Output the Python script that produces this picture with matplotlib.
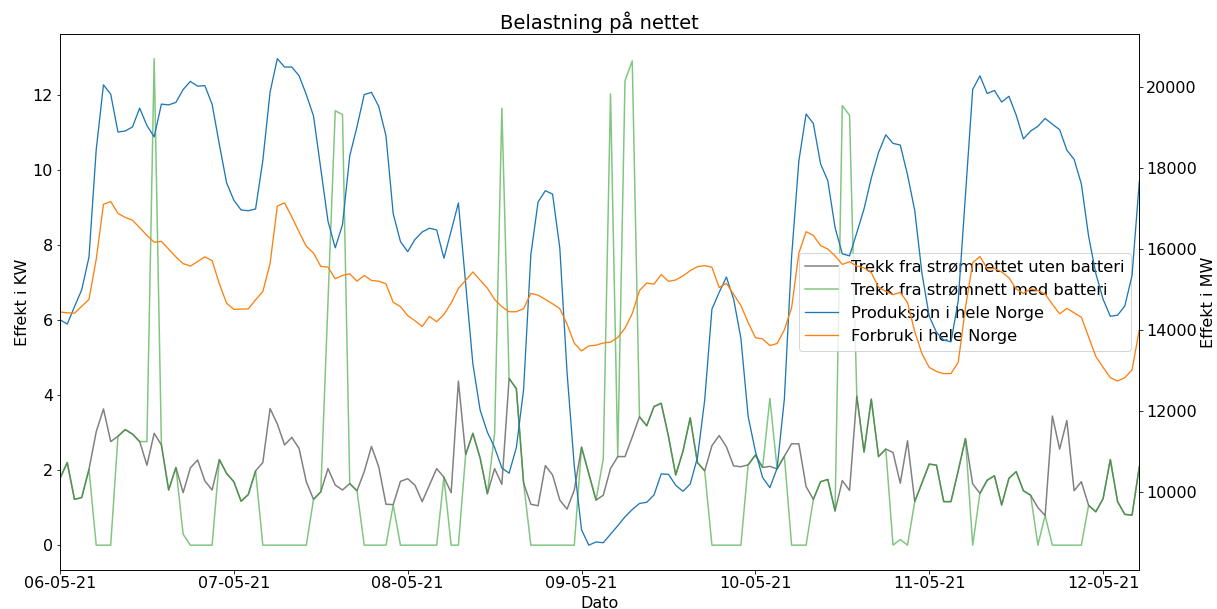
import numpy as np
import pandas as pd
import matplotlib
matplotlib.use("Agg")
import matplotlib.pyplot as plt
import matplotlib.dates as mdates

# ---- data (hourly, 06-05-2021 00:00 -> 12-05-2021 05:00) ----
start = "2021-05-06 00:00"
n_hours = 150

uten_batteri = [
    1.78, 2.2, 1.22, 1.27, 2.02, 3.02, 3.63, 2.76, 2.9, 3.08, 2.96, 2.76, 2.13, 2.98, 2.67, 1.47, 2.07, 1.4, 2.06, 2.27,
    1.71, 1.47, 2.28, 1.91, 1.69, 1.17, 1.35, 1.98, 2.2, 3.64, 3.23, 2.67, 2.87, 2.58, 1.69, 1.22, 1.42, 2.04, 1.6, 1.47,
    1.64, 1.45, 1.96, 2.63, 2.09, 1.09, 1.08, 1.7, 1.77, 1.6, 1.16, 1.6, 2.04, 1.81, 1.4, 4.37, 2.41, 2.98, 2.32, 1.37,
    2.04, 1.62, 4.44, 4.17, 1.66, 1.09, 1.05, 2.12, 1.87, 1.2, 0.96, 1.47, 2.61, 1.9, 1.2, 1.33, 2.04, 2.36, 2.36, 2.88,
    3.42, 3.18, 3.69, 3.78, 2.9, 1.87, 2.5, 3.39, 2.2, 1.98, 2.65, 2.92, 2.62, 2.11, 2.09, 2.14, 2.4, 2.07, 2.1, 2.03,
    2.37, 2.7, 2.7, 1.56, 1.22, 1.69, 1.75, 0.91, 1.72, 1.46, 3.97, 2.48, 3.89, 2.36, 2.56, 2.47, 1.65, 2.78, 1.16, 1.66,
    2.16, 2.13, 1.16, 1.16, 1.98, 2.84, 1.63, 1.38, 1.73, 1.85, 1.07, 1.78, 1.96, 1.45, 1.33, 1.0, 0.79, 3.44, 2.56, 3.32,
    1.45, 1.69, 1.06, 0.89, 1.24, 2.28, 1.16, 0.82, 0.8, 2.09,
]

med_batteri = [
    1.78, 2.2, 1.22, 1.27, 2.02, 0.0, 0.0, 0.0, 2.9, 3.08, 2.96, 2.76, 2.76, 12.96, 2.67, 1.47, 2.07, 0.29, 0.0, 0.0,
    0.0, 0.0, 2.28, 1.91, 1.69, 1.17, 1.35, 1.98, 0.0, 0.0, 0.0, 0.0, 0.0, 0.0, 0.0, 1.22, 1.42, 6.5, 11.57, 11.47,
    1.64, 1.45, 0.0, 0.0, 0.0, 0.0, 1.07, 0.0, 0.0, 0.0, 0.0, 0.0, 0.0, 1.81, 0.0, 0.0, 2.41, 2.98, 2.32, 1.37,
    2.98, 11.64, 4.44, 4.17, 1.66, 0.0, 0.0, 0.0, 0.0, 0.0, 0.0, 0.0, 2.61, 1.9, 1.2, 2.3, 12.02, 2.36, 12.37, 12.9,
    3.42, 3.18, 3.69, 3.78, 2.9, 1.87, 2.5, 3.39, 2.2, 1.98, 0.0, 0.0, 0.0, 0.0, 0.0, 2.14, 2.4, 2.07, 3.91, 2.03,
    2.37, 0.0, 0.0, 0.0, 1.22, 1.69, 1.75, 0.91, 11.71, 11.45, 3.97, 2.48, 3.89, 2.36, 2.56, 0.0, 0.15, 0.0, 1.16, 1.66,
    2.16, 2.13, 1.16, 1.16, 1.98, 2.84, 0.0, 1.38, 1.73, 1.85, 1.07, 1.78, 1.96, 1.45, 1.33, 0.0, 0.79, 0.0, 0.0, 0.0,
    0.0, 0.0, 1.06, 0.89, 1.24, 2.28, 1.16, 0.82, 0.8, 2.09,
]

produksjon = [
    14250, 14140, 14570, 14990, 15795, 18450, 20050, 19820, 18885, 18910, 19010, 19475, 19045, 18765, 19575, 19555, 19617, 19935, 20135, 20018,
    20030, 19570, 18578, 17630, 17200, 16960, 16942, 16985, 18180, 19870, 20698, 20490, 20490, 20277, 19810, 19280, 17975, 16680, 16025, 16596,
    18295, 19016, 19810, 19865, 19517, 18796, 16868, 16180, 15930, 16230, 16416, 16509, 16467, 15768, 16442, 17133, 15135, 13155, 12018, 11470,
    11091, 10586, 10459, 11091, 12523, 15852, 17158, 17436, 17352, 16020, 12944, 10628, 9060, 8680, 8760, 8740, 8950, 9160, 9380, 9560,
    9710, 9740, 9920, 10440, 10430, 10160, 10010, 10190, 10840, 12260, 14510, 14924, 15303, 14756, 13787, 11860, 11000, 10350, 10100, 10580,
    12290, 15809, 18168, 19331, 19095, 18100, 17679, 16525, 15876, 15826, 16399, 16988, 17746, 18378, 18816, 18605, 18563, 17830, 16946, 15387,
    14334, 13938, 13745, 13703, 14714, 17326, 19937, 20274, 19836, 19912, 19625, 19768, 19305, 18715, 18909, 19027, 19221, 19078, 18943, 18437,
    18210, 17603, 16314, 15387, 14756, 14334, 14360, 14587, 15345, 17662,
]

forbruk = [
    14440, 14420, 14410, 14580, 14750, 15740, 17098, 17168, 16876, 16776, 16709, 16520, 16333, 16162, 16184, 15990, 15800, 15636, 15574, 15686,
    15802, 15707, 15134, 14656, 14505, 14510, 14516, 14739, 14945, 15632, 17055, 17137, 16790, 16417, 16062, 15896, 15566, 15549, 15260, 15342,
    15384, 15201, 15342, 15218, 15201, 15134, 14680, 14573, 14350, 14226, 14082, 14330, 14200, 14380, 14660, 15020, 15226, 15428, 15226, 15030,
    14748, 14570, 14446, 14446, 14522, 14898, 14856, 14748, 14643, 14522, 14141, 13670, 13478, 13600, 13620, 13675, 13695, 13810, 14040, 14400,
    14970, 15155, 15127, 15365, 15197, 15231, 15331, 15460, 15560, 15585, 15545, 15043, 15148, 14876, 14600, 14180, 13804, 13775, 13610, 13661,
    13998, 14545, 15893, 16424, 16331, 16079, 15994, 15826, 15615, 15683, 15573, 15531, 15413, 15051, 14950, 14866, 14925, 14672, 13956, 13408,
    13071, 12970, 12919, 12919, 13197, 14545, 15657, 15809, 15514, 15514, 15430, 15287, 15009, 14899, 15009, 14967, 14883, 14630, 14394, 14529,
    14419, 14310, 13829, 13341, 13071, 12818, 12734, 12818, 13012, 13998,
]

labels = ["Trekk fra strømnettet uten batteri", "Trekk fra strømnett med batteri",
          "Produksjon i hele Norge", "Forbruk i hele Norge"]

tid = pd.date_range(start, periods=n_hours, freq="h")

plt.rcParams["font.family"] = ["DejaVu Sans"]
fig = plt.figure(figsize=(1217 / 72, 609 / 72), dpi=72)
ax1 = fig.add_axes([60 / 1217, 1 - 569.5 / 609, (1139.3 - 60) / 1217, (569.5 - 34.3) / 609])
ax2 = ax1.twinx()

l1, = ax1.plot(tid, uten_batteri, color="grey", lw=1.5, label=labels[0])
l2, = ax1.plot(tid, med_batteri, color="tab:green", alpha=0.6, lw=1.5, label=labels[1])
l3, = ax2.plot(tid, produksjon, color="tab:blue", lw=1.3, label=labels[2])
l4, = ax2.plot(tid, forbruk, color="tab:orange", lw=1.3, label=labels[3])

ax1.set_xlim(tid[0], tid[-1])
ax1.xaxis.set_major_locator(mdates.DayLocator())
ax1.xaxis.set_major_formatter(mdates.DateFormatter("%d-%m-%y"))

ax1.set_yticks([0, 2, 4, 6, 8, 10, 12])
ax2.set_yticks([10000, 12000, 14000, 16000, 18000, 20000])

for ax in (ax1, ax2):
    ax.tick_params(labelsize=16)

ax1.set_xlabel("Dato", fontsize=16, labelpad=4)
ax1.set_ylabel("Effekt i KW", fontsize=16, labelpad=3)
ax2.set_ylabel("Effekt i MW", fontsize=16, labelpad=4)
ax1.set_title("Belastning på nettet", fontsize=19.5, pad=5)

ax1.legend(handles=[l1, l2, l3, l4], loc="center right", fontsize=16.3)

fig.savefig("out.png", dpi=72)
